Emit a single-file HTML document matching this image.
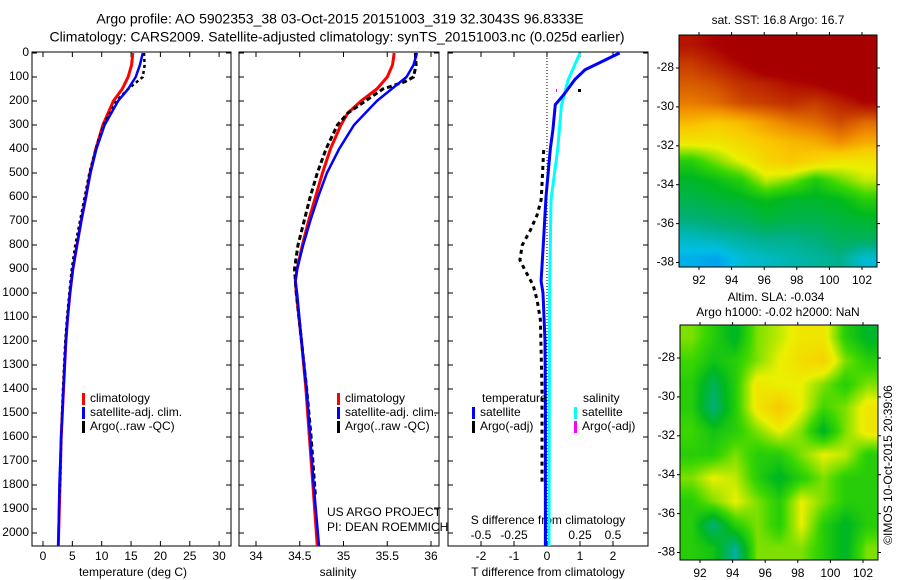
<!DOCTYPE html>
<html><head><meta charset="utf-8"><style>
html,body{margin:0;padding:0;background:#fff;width:900px;height:580px;overflow:hidden}
#wrap{position:relative;width:900px;height:580px}
svg{position:absolute;left:0;top:0}
canvas{position:absolute}
text{font-family:"Liberation Sans",sans-serif;font-size:12px;fill:#000}
</style></head><body>
<div id="wrap">
<canvas id="sst" width="198" height="232" style="left:679px;top:35px;width:198px;height:232px"></canvas>
<canvas id="sla" width="198" height="235" style="left:680px;top:325px;width:198px;height:235px"></canvas>
<svg id="fig" width="900" height="580"></svg>
</div>
<script>
// ---- data ----
const tempDepth=[0,50,100,150,200,300,400,500,600,700,800,900,1000,1100,1200,1400,1600,1800,2054];
const tempClim=[15.3,15.1,14.5,13.5,12,10.2,9,8,7.3,6.5,5.8,5.1,4.6,4.2,3.9,3.5,3.1,2.9,2.6];
const tempSat=[17,16.5,15.8,14.5,12.8,10.5,9.1,8.1,7.3,6.5,5.8,5.1,4.6,4.2,3.9,3.5,3.1,2.8,2.6];
const argoDepth=[0,50,100,150,200,300,400,500,600,700,800,900,1000,1100,1200,1400,1600,1800,1850];
const tempArgo=[17.2,17.3,17,14.5,12.5,10.3,9,7.9,7.1,6.3,5.5,4.9,4.5,4.1,3.8,3.4,3.1,2.9,2.8];
const salDepth=[0,50,100,150,200,250,300,400,500,600,700,800,900,950,1000,1200,1400,1600,1800,2054];
const salClim=[35.58,35.56,35.5,35.38,35.2,35.05,34.97,34.85,34.76,34.68,34.6,34.53,34.47,34.45,34.46,34.52,34.57,34.61,34.65,34.7];
const salSat=[35.84,35.8,35.72,35.55,35.38,35.25,35.12,34.95,34.81,34.71,34.62,34.54,34.47,34.45,34.47,34.52,34.58,34.62,34.66,34.72];
const salArgoDepth=[0,50,100,120,150,200,250,300,400,500,600,700,800,900,1000,1200,1400,1600,1800,1850];
const salArgo=[35.82,35.83,35.8,35.7,35.45,35.25,35.05,34.93,34.8,34.7,34.62,34.55,34.48,34.44,34.46,34.52,34.58,34.63,34.67,34.68];
const tdDepth=[0,40,70,110,175,215,320,400,600,820,950,1000,1200,1500,2054];
const tdSat=[2.2,1.6,1.15,0.85,0.5,0.25,0.18,0.1,-0.03,-0.12,-0.18,-0.12,-0.06,-0.05,-0.05];
const sdDepth=[0,50,112,175,217,404,612,1000,2054];
const sdSat=[0.25,0.21,0.16,0.13,0.11,0.08,0.03,0.02,0.015];
const tdArgoDepth=[404,487,571,612,675,737,800,862,904,967,1029,1112,1400,1800];
const tdArgo=[-0.1,-0.13,-0.16,-0.18,-0.3,-0.5,-0.75,-0.82,-0.67,-0.42,-0.3,-0.2,-0.15,-0.15];
const depthTicks=[0,100,200,300,400,500,600,700,800,900,1000,1100,1200,1300,1400,1500,1600,1700,1800,1900,2000];
const tempTicks=[0,5,10,15,20,25,30];
const salTicks=[34,34.5,35,35.5,36];
const tdTicks=[-2,-1,0,1,2];
const sdTicks=[-0.5,-0.25,0,0.25,0.5];
const lonTicks=[92,94,96,98,100,102];
const latTicks=[-28,-30,-32,-34,-36,-38];
const sstGrid=[
[0.92,0.95,1,1,1,1,1,1],
[0.86,0.9,0.94,1,1,1,1,1],
[0.82,0.84,0.88,0.9,0.93,0.95,0.98,1],
[0.78,0.8,0.84,0.86,0.88,0.86,0.9,0.94],
[0.7,0.68,0.7,0.74,0.78,0.8,0.84,0.8],
[0.62,0.62,0.65,0.68,0.7,0.72,0.76,0.72],
[0.5,0.55,0.6,0.65,0.68,0.65,0.62,0.62],
[0.45,0.47,0.5,0.58,0.55,0.49,0.54,0.58],
[0.43,0.44,0.45,0.47,0.45,0.45,0.46,0.5],
[0.4,0.41,0.42,0.44,0.43,0.43,0.44,0.45],
[0.36,0.37,0.38,0.39,0.39,0.4,0.42,0.42],
[0.33,0.32,0.35,0.36,0.37,0.38,0.39,0.35]];
const slaGrid=[
[.55,.5,.45,.55,.58,.62,.62,.5,.45],
[.52,.48,.5,.55,.6,.64,.66,.55,.5],
[.5,.42,.5,.62,.6,.6,.55,.5,.55],
[.5,.4,.5,.62,.68,.6,.52,.55,.62],
[.52,.48,.5,.55,.6,.55,.45,.55,.62],
[.5,.5,.55,.5,.5,.55,.6,.58,.5],
[.55,.6,.58,.5,.45,.5,.55,.5,.5],
[.5,.55,.6,.55,.5,.6,.55,.5,.5],
[.5,.4,.5,.55,.5,.6,.5,.45,.5],
[.5,.48,.38,.55,.55,.55,.5,.45,.55]];

// ---- axes ----
const PT=52,PB=546;
const yD=d=>53+0.24*d;
const xT=t=>43+5.87*t;
const xS=s=>256+87.5*(s-34);
const xTD=t=>547+33*t;
const xSD=s=>547+132*s;
const NS='http://www.w3.org/2000/svg';
const svg=document.getElementById('fig');
function mk(tag,attrs,parent){const e=document.createElementNS(NS,tag);for(const k in attrs)e.setAttribute(k,attrs[k]);(parent||svg).appendChild(e);return e;}
function txt(x,y,s,anchor,parent){const t=mk('text',{x:x,y:y,'text-anchor':anchor||'start','dominant-baseline':'middle'},parent);t.textContent=s;return t;}
function line(xs,ys,color,w,dash,name){
  let d='';for(let i=0;i<xs.length;i++)d+=(i?'L':'M')+xs[i].toFixed(1)+','+ys[i].toFixed(1);
  const p=mk('path',{d:d,fill:'none',stroke:color,'stroke-width':w});
  if(dash)p.setAttribute('stroke-dasharray',dash);
  
  
  return p;}

// titles
let t1=txt(340,20,'Argo profile: AO 5902353_38 03-Oct-2015 20151003_319 32.3043S 96.8333E','middle');t1.style.fontSize='14px';

let t2=txt(337,38,'Climatology: CARS2009. Satellite-adjusted climatology: synTS_20151003.nc (0.025d earlier)','middle');t2.style.fontSize='14px';


function panel(x0,x1,name){
  const r=mk('rect',{x:x0,y:PT,width:x1-x0,height:PB-PT,fill:'none',stroke:'#000','stroke-width':1});
  
  depthTicks.forEach(d=>{mk('line',{x1:x0,x2:x0+5,y1:yD(d),y2:yD(d),stroke:'#000'});mk('line',{x1:x1,x2:x1-5,y1:yD(d),y2:yD(d),stroke:'#000'});});
}
panel(32,231,'temperature-panel');panel(239,439,'salinity-panel');panel(448,648,'difference-panel');
depthTicks.forEach(d=>{const e=txt(29,yD(d),String(d),'end');});
tempTicks.forEach(v=>{mk('line',{x1:xT(v),x2:xT(v),y1:PB,y2:PB-5,stroke:'#000'});mk('line',{x1:xT(v),x2:xT(v),y1:PT,y2:PT+5,stroke:'#000'});txt(xT(v),557,String(v),'middle');});
salTicks.forEach(v=>{mk('line',{x1:xS(v),x2:xS(v),y1:PB,y2:PB-5,stroke:'#000'});mk('line',{x1:xS(v),x2:xS(v),y1:PT,y2:PT+5,stroke:'#000'});txt(xS(v),557,String(v),'middle');});
tdTicks.forEach(v=>{mk('line',{x1:xTD(v),x2:xTD(v),y1:PB,y2:PB-5,stroke:'#000'});mk('line',{x1:xTD(v),x2:xTD(v),y1:PT,y2:PT+5,stroke:'#000'});txt(xTD(v),557,String(v),'middle');});
sdTicks.forEach(v=>{txt(xSD(v),536,String(v),'middle');});
let a1=txt(133,573,'temperature (deg C)','middle');
let a2=txt(338,573,'salinity','middle');
let a3=txt(548,573,'T difference from climatology','middle');
let a4=txt(548,521,'S difference from climatology','middle');
txt(327,513,'US ARGO PROJECT');txt(327,528,'PI: DEAN ROEMMICH');

// zero dotted line
mk('line',{x1:547,x2:547,y1:PT,y2:PB,stroke:'#000','stroke-dasharray':'1,2'});

// series
line(tempClim.map(xT),tempDepth.map(yD),'#f00',3,null,'temp-climatology-line');
line(tempArgo.map(xT),argoDepth.map(yD),'#000',2.5,'3,3','temp-argo-line');
line(tempSat.map(xT),tempDepth.map(yD),'#00f',2.5,null,'temp-satellite-line');
line(salClim.map(xS),salDepth.map(yD),'#f00',3,null,'sal-climatology-line');
line(salArgo.map(xS),salArgoDepth.map(yD),'#000',3,'5,3','sal-argo-line');
line(salSat.map(xS),salDepth.map(yD),'#00f',2.5,null,'sal-satellite-line');
line(sdSat.map(xSD),sdDepth.map(yD),'#0ff',3,null,'sdiff-satellite-line');
line(tdSat.map(xTD),tdDepth.map(yD),'#00f',3,null,'tdiff-satellite-line');
line(tdArgo.map(xTD),tdArgoDepth.map(yD),'#000',3,'4,4','tdiff-argo-line');
mk('rect',{x:578,y:89,width:3,height:3,fill:'#000'});
mk('rect',{x:556,y:89,width:1,height:3,fill:'#f0f'});

// legends
function leg(x,y,color,label,name){const g=mk('g',{});
 mk('rect',{x:x-2,y:y-6,width:3,height:12,fill:color},g);txt(x+6,y,label,'start',g);}
leg(84,399,'#f00','climatology','legend-temp-climatology');
leg(84,413,'#00f','satellite-adj. clim.','legend-temp-satellite');
leg(84,427,'#000','Argo(..raw -QC)','legend-temp-argo');
leg(339,399,'#f00','climatology','legend-sal-climatology');
leg(339,413,'#00f','satellite-adj. clim.','legend-sal-satellite');
leg(339,427,'#000','Argo(..raw -QC)','legend-sal-argo');
txt(482,399,'temperature');txt(583,399,'salinity');
leg(474,413,'#00f','satellite','legend-tdiff-satellite');
leg(474,427,'#000','Argo(-adj)','legend-tdiff-argo');
leg(576,413,'#0ff','satellite','legend-sdiff-satellite');
leg(576,427,'#f0f','Argo(-adj)','legend-sdiff-argo');

// maps
const xLon=(lon,x0)=>x0+20+16.3*(lon-92);
function mapAxes(x0,y0,w,h,lat28,name){
  const r=mk('rect',{x:x0,y:y0,width:w,height:h,fill:'none',stroke:'#000'});
  
  lonTicks.forEach(v=>{const x=xLon(v,x0);mk('line',{x1:x,x2:x,y1:y0+h,y2:y0+h+3,stroke:'#000'});mk('line',{x1:x,x2:x,y1:y0,y2:y0-3,stroke:'#000'});txt(x,y0+h+14,String(v),'middle');});
  latTicks.forEach(v=>{const y=lat28+19.45*(-28-v);mk('line',{x1:x0,x2:x0-3,y1:y,y2:y,stroke:'#000'});mk('line',{x1:x0+w,x2:x0+w+3,y1:y,y2:y,stroke:'#000'});txt(x0-5,y,String(v),'end');});
}
mapAxes(679,35,198,232,68,'sst-map-frame');
mapAxes(680,325,198,235,358,'sla-map-frame');
let m1=txt(778,21,'sat. SST: 16.8 Argo: 16.7','middle');
txt(776,298,'Altim. SLA: -0.034','middle');
txt(778,313,'Argo h1000: -0.02 h2000: NaN','middle');
let c=txt(0,0,'©IMOS 10-Oct-2015 20:39:06','middle');c.setAttribute('transform','translate(889,465) rotate(-90)');


const stops=[[0.28,[0,110,250]],[0.34,[0,190,230]],[0.4,[0,175,120]],[0.46,[0,185,30]],[0.52,[60,215,0]],[0.6,[235,240,0]],[0.68,[250,200,0]],[0.76,[240,140,0]],[0.86,[200,60,0]],[0.95,[170,0,0]],[1.01,[165,0,0]]];
function cmap(v){if(v<=stops[0][0])return stops[0][1];for(let i=1;i<stops.length;i++){if(v<=stops[i][0]){const a=stops[i-1],b=stops[i],f=(v-a[0])/(b[0]-a[0]);return a[1].map((c,k)=>Math.round(c+(b[1][k]-c)*f));}}return stops[stops.length-1][1];}
function drawMap(id,grid){
  const cv=document.getElementById(id),ctx=cv.getContext('2d');
  const R=grid.length,C=grid[0].length,W=cv.width,H=cv.height;
  const img=ctx.createImageData(W,H);
  for(let y=0;y<H;y++)for(let x=0;x<W;x++){
    const gy=Math.min(R-1.001,Math.max(0,y/H*R-0.5)),gx=Math.min(C-1.001,Math.max(0,x/W*C-0.5));
    const i=Math.floor(gy),j=Math.floor(gx),fy=gy-i,fx=gx-j;
    const v=grid[i][j]*(1-fx)*(1-fy)+grid[i][j+1]*fx*(1-fy)+grid[i+1][j]*(1-fx)*fy+grid[i+1][j+1]*fx*fy;
    const col=cmap(v),p=(y*W+x)*4;img.data[p]=col[0];img.data[p+1]=col[1];img.data[p+2]=col[2];img.data[p+3]=255;}
  ctx.putImageData(img,0,0);
}
drawMap('sst',sstGrid);drawMap('sla',slaGrid);
</script>
</body></html>
